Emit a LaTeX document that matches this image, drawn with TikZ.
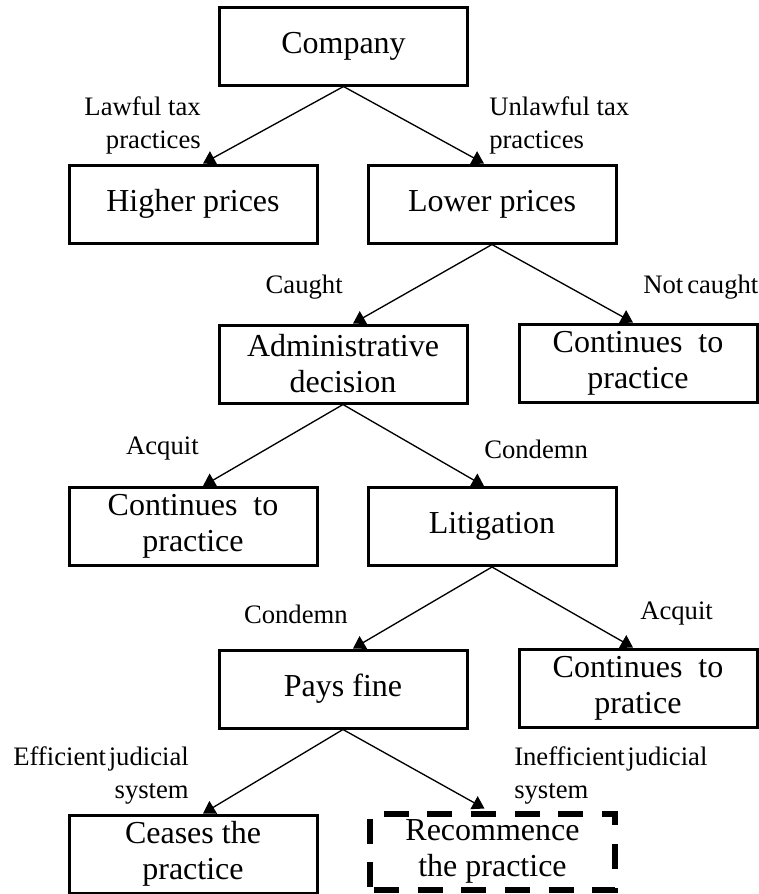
\documentclass[tikz,border=0pt]{standalone}
\usepackage{fontspec}
\setmainfont{Liberation Serif}
\usetikzlibrary{arrows.meta,calc}
\begin{document}
\begin{tikzpicture}[x=0.75pt,y=-0.75pt,
  box/.style={draw,line width=2.25pt,minimum width=186pt,minimum height=58.5pt,inner sep=0pt,align=center,
    font=\fontsize{24}{27}\selectfont},
  dbox/.style={box,line width=4.5pt,dash pattern=on 18.75pt off 14pt,dash phase=-3pt},
  lbl/.style={inner sep=0pt,font=\fontsize{20}{24.75}\selectfont},
  conn/.style={line width=1pt,-{Triangle[width=11pt,length=9pt]}}]
\useasboundingbox (0,0) rectangle (759,894);
\node[box] (company) at (343.5,46) {Company};
\node[box] (higher) at (193,204) {Higher\ prices};
\node[box] (lower) at (492,204) {Lower\ prices};
\node[box] (admin) at (343,364) {Administrative\\decision};
\node[box,minimum width=178.5pt] (cont1) at (638,363) {Continues\ \ to\\practice};
\node[box] (cont2) at (193,526.5) {Continues\ \ to\\practice};
\node[box] (litig) at (492,526.5) {Litigation};
\node[box] (pays) at (343,689) {Pays fine};
\node[box,minimum width=178.5pt] (cont3) at (638,688) {Continues\ \ to\\pratice};
\node[box] (ceases) at (193,854) {Ceases the\\practice};
\node[dbox,minimum width=184pt,minimum height=57pt] (recomm) at (492.5,851.5) {Recommence\\the practice};

\draw[conn] (company.south) -- ($(higher.north)+(10,0)$);
\draw[conn] (company.south) -- ($(lower.north)+(-8,0)$);
\draw[conn] (lower.south) -- ($(admin.north)+(10,0)$);
\draw[conn] (lower.south) -- ($(cont1.north)+(-5,0)$);
\draw[conn] (admin.south) -- ($(cont2.north)+(10,0)$);
\draw[conn] (admin.south) -- ($(litig.north)+(-8,0)$);
\draw[conn] (litig.south) -- ($(pays.north)+(10,0)$);
\draw[conn] (litig.south) -- ($(cont3.north)+(-5,0)$);
\draw[conn] (pays.south) -- ($(ceases.north)+(10,0)$);
\draw[conn] (pays.south) -- ($(recomm.north)+(-8,-2)$);

\node[lbl,anchor=east,align=right] (l1) at (201,125) {Lawful tax\\practices};
\node[lbl,anchor=west,align=left] (l2) at (489,125) {Unlawful tax\\practices};
\node[lbl,anchor=east] (l3) at (343,287) {Caught};
\node[lbl,anchor=west] (l4) at (643,287) {Not\hspace{3pt}caught};
\node[lbl,anchor=east] (l5) at (199,449) {Acquit};
\node[lbl,anchor=west] (l6) at (484,449) {Condemn};
\node[lbl,anchor=east] (l7) at (348,614) {Condemn};
\node[lbl,anchor=west] (l8) at (640,614) {Acquit};
\node[lbl,anchor=east,align=right] (l9) at (189,775) {Efficient\hspace{2pt}judicial\\system};
\node[lbl,anchor=west,align=left] (l10) at (514,775) {Inefficient\hspace{2pt}judicial\\system};
\end{tikzpicture}
\end{document}
